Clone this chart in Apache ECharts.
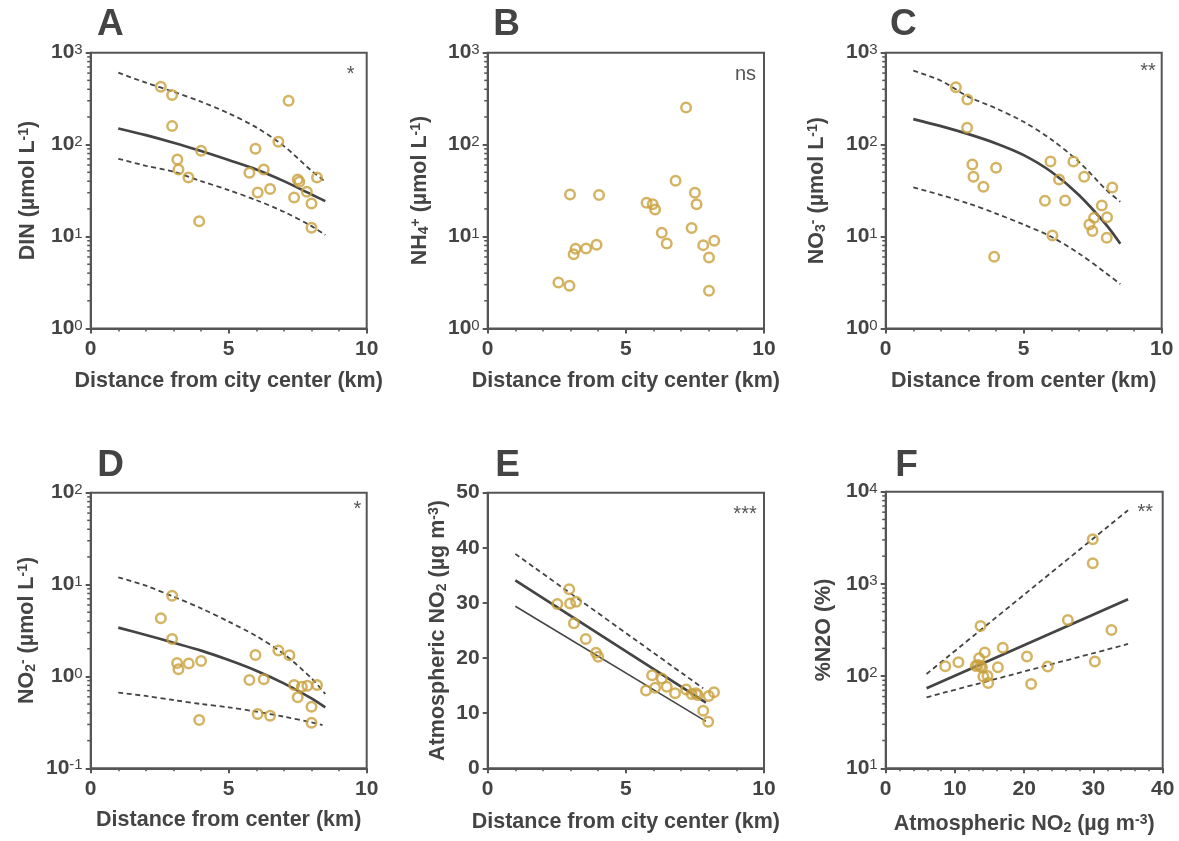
<!DOCTYPE html>
<html><head><meta charset="utf-8">
<script src="https://cdn.jsdelivr.net/npm/echarts@6/dist/echarts.min.js"></script>
<style>html,body{margin:0;padding:0;background:#fff}#c{width:1179px;height:841px}</style>
</head><body><div id="c"></div>
<script>
// ---------- DATA ----------
// Panel A: DIN vs distance
const distA = [2.54,2.95,2.95,3.14,3.18,3.54,4.0,3.93,5.75,5.97,6.27,6.05,6.5,6.8,7.17,7.37,7.5,7.56,7.83,8.0,8.0,8.2];
const dinA  = [427,346,159,69,53.7,44,85.8,14.7,49.4,90.2,53.7,30.2,33,107.5,300,26.6,41.8,39.5,30.7,22.9,12.5,44];
const curveX = [1,2,3,4,5,6,7,8,8.5];
const dinFit   = [150,127,105,85.1,67.9,53.7,40.1,28.7,24.3];
const dinUpper = [606,472,376,293,219,154,96.4,52,39.5];
const dinLower = [70.2,58.9,50.7,40.1,32.0,24.9,18.6,13.0,10.4];

// Panel B: NH4+ vs distance
const distB = [2.56,2.96,2.98,3.11,3.18,3.56,3.94,4.03,5.75,5.97,6.06,6.30,6.48,6.80,7.18,7.38,7.50,7.56,7.80,8.01,8.01,8.20];
const nh4B  = [3.17,2.91,28.7,6.44,7.36,7.4,8.14,28.4,23.3,22.5,19.7,11,8.41,40.5,254,12.4,29.9,22.5,8.07,5.93,2.57,9.0];

// Panel C: NO3- vs distance
const distC = [2.54,2.96,2.95,3.14,3.18,3.54,4.0,3.93,5.77,5.97,6.04,6.28,6.5,6.8,7.19,7.38,7.49,7.55,7.83,8.02,8.01,8.21];
const no3C  = [420,310,153,60.9,44.7,34.8,56,6.03,24.5,65.7,10.3,41.8,24.7,65.4,44.7,13.5,11.5,16,21.8,16.2,9.7,34.2];
const no3Fit   = [189.7,159,130,103,76.9,50.7,28.3,13.3,8.34];
const no3Upper = [637,496,332,248,177,114,65.1,32,23.9];
const no3Lower = [34.2,28.3,22.9,17.8,13.5,9.95,6.55,3.97,3.04];

// Panel D: NO2- vs distance
const distD = [2.54,2.95,2.95,3.13,3.18,3.55,4.0,3.93,5.75,5.97,6.27,6.05,6.5,6.8,7.2,7.37,7.5,7.65,7.85,8.0,8.0,8.2];
const no2D  = [4.29,7.57,2.56,1.40,1.195,1.38,1.47,0.336,0.915,1.71,0.93,0.39,0.374,1.91,1.70,0.807,0.593,0.774,0.79,0.469,0.314,0.807];
const no2Fit   = [3.40,2.83,2.33,1.91,1.51,1.156,0.841,0.578,0.461];
const no2Upper = [12.0,9.72,7.38,5.51,3.95,2.75,1.75,0.954,0.644];
const no2LowerX = [1,2,3,4,5,6,7,8,8.4];
const no2Lower = [0.666,0.613,0.554,0.501,0.461,0.414,0.365,0.317,0.296];

// Panel E: atmospheric NO2 vs distance
const distE = [2.52,2.95,2.98,3.2,3.12,3.55,3.92,4.0,5.73,5.95,6.06,6.30,6.48,6.78,7.18,7.38,7.54,7.6,7.8,8.0,7.98,8.19];
const atmE  = [29.8,32.5,29.9,30.2,26.3,23.45,20.97,20.25,14.1,16.9,14.6,16.3,14.8,13.6,14.3,13.5,13.6,13.3,10.45,13.1,8.45,13.8];
const eFitX = [1,7.9],  eFit = [34.1,11.9];
const eUpX  = [1,7.8],  eUp  = [38.9,14.5];
const eLoX  = [1,7.9],  eLo  = [29.4,8.5];

// Panel F: %N2O vs atmospheric NO2
const atmF = [8.6,10.5,13.0,13.7,13.5,13.7,14.3,14.1,14.7,14.8,16.2,16.9,20.4,21.0,23.4,26.3,29.9,29.9,30.2,32.6,13.3,13.9];
const n2oF = [128,141,129,129,156,350,180,99,100,84,125,203,163,82,127,406,3050,1670,144,316,132,124];
const fLineX = [5.9,35];
const fFit = [73.8,681], fUp = [105.5,6300], fLo = [58.9,223];

const panelLetters = ['A','B','C','D','E','F'];
const sigLabels = ['*','ns','**','*','***','**'];

// ---------- STYLE ----------
const FONT = '"Liberation Sans", Arial, sans-serif';
const DARK = '#444';
const FRAME = '#555';
const GOLD = '#C9A03C';

const zip = (xs, ys) => xs.map((x, i) => [x, ys[i]]);

const grids = [
  {left:90.7,  top:52.7,  width:276,   height:275.8},
  {left:487.7, top:52.7,  width:276.3, height:275.8},
  {left:885.7, top:52.7,  width:276,   height:275.8},
  {left:90.7,  top:492.7, width:276,   height:275.6},
  {left:487.7, top:492.7, width:276.3, height:275.6},
  {left:885.7, top:491.7, width:277,   height:276.6}
].map(g => Object.assign({show:true, borderColor:FRAME, borderWidth:2, backgroundColor:'transparent', containLabel:false, outerBoundsMode:'none'}, g));

const nameRich = {
  sup: {fontSize:14, fontWeight:'bold', fontFamily:FONT, color:DARK, verticalAlign:'top'},
  sub: {fontSize:14, fontWeight:'bold', fontFamily:FONT, color:DARK, verticalAlign:'bottom', lineHeight:11}
};
const nameStyle = {fontSize:21.5, fontWeight:'bold', fontFamily:FONT, color:DARK, rich:nameRich};

function xAx(gi, max, interval, name, nameGap) {
  return {type:'value', gridIndex:gi, min:0, max, interval, name, nameLocation:'middle', nameGap,
    nameTextStyle:nameStyle, nameMoveOverlap:false,
    axisLine:{show:true, onZero:false, lineStyle:{color:FRAME, width:2}},
    axisTick:{show:true, length:5, lineStyle:{color:FRAME, width:2}},
    minorTick:{show:true, splitNumber:5, length:3, lineStyle:{color:FRAME, width:1.5}},
    axisLabel:{margin:10, fontSize:21, fontWeight:'bold', fontFamily:FONT, color:DARK},
    splitLine:{show:false}, minorSplitLine:{show:false}};
}
function yLog(gi, min, max, name, nameGap) {
  return {type:'log', logBase:10, gridIndex:gi, min, max, name, nameLocation:'middle', nameGap,
    nameTextStyle:nameStyle, nameMoveOverlap:false,
    axisLine:{show:true, onZero:false, lineStyle:{color:FRAME, width:2}},
    axisTick:{show:true, length:5, lineStyle:{color:FRAME, width:2}},
    axisLabel:{margin:8, formatter: v => '{b|10}{e|' + Math.round(Math.log10(v)) + '}',
      rich:{b:{fontSize:21, fontWeight:'bold', fontFamily:FONT, color:DARK, verticalAlign:'bottom'},
            e:{fontSize:15, fontFamily:FONT, color:DARK, verticalAlign:'top'}}},
    splitLine:{show:false}};
}
function yLin(gi, min, max, interval, name, nameGap) {
  return {type:'value', gridIndex:gi, min, max, interval, name, nameLocation:'middle', nameGap,
    nameTextStyle:nameStyle, nameMoveOverlap:false,
    axisLine:{show:true, onZero:false, lineStyle:{color:FRAME, width:2}},
    axisTick:{show:true, length:5, lineStyle:{color:FRAME, width:2}},
    axisLabel:{margin:8, fontSize:21, fontWeight:'bold', fontFamily:FONT, color:DARK},
    splitLine:{show:false}};
}

function scatter(gi, xs, ys) {
  return {type:'scatter', xAxisIndex:gi, yAxisIndex:gi, data:zip(xs, ys), symbol:'circle', symbolSize:9.5,
    itemStyle:{color:'rgba(0,0,0,0)', borderColor:GOLD, borderWidth:2.5}, z:4, silent:true};
}
function line(gi, xs, ys, kind) {
  const ls = kind === 'fit' ? {color:DARK, width:2.7, type:'solid'}
           : kind === 'thin' ? {color:DARK, width:1.5, type:'solid'}
           : {color:DARK, width:1.8, type:[5,3.5]};
  return {type:'line', xAxisIndex:gi, yAxisIndex:gi, data:zip(xs, ys), showSymbol:false, symbol:'none',
    smooth:0.3, lineStyle:ls, z:3, silent:true};
}
// minor ticks (2..9 per decade) on a log axis, positioned through the axis scale
function logMinor(gi, lo, hi) {
  const vals = [];
  for (let d = lo; d < hi; d *= 10) for (let k = 2; k <= 9; k++) vals.push([0, +(k * d).toPrecision(6)]);
  return {type:'custom', xAxisIndex:gi, yAxisIndex:gi, data:vals, silent:true, clip:false, z:6,
    renderItem:(p, api) => {
      const pt = api.coord([api.value(0), api.value(1)]);
      return {type:'line', shape:{x1:pt[0]-3.5, y1:pt[1], x2:pt[0], y2:pt[1]}, style:{stroke:FRAME, lineWidth:1.5}};
    }};
}

const xAxes = [
  xAx(0, 10, 5, 'Distance from city center (km)', 42),
  xAx(1, 10, 5, 'Distance from city center (km)', 42),
  xAx(2, 10, 5, 'Distance from center (km)', 42),
  xAx(3, 10, 5, 'Distance from center (km)', 41),
  xAx(4, 10, 5, 'Distance from city center (km)', 43),
  xAx(5, 40, 10, 'Atmospheric NO{sub|2} (µg m{sup|-3})', 45)
];
const yAxes = [
  yLog(0, 1, 1000, 'DIN (µmol L{sup|-1})', 52),
  yLog(1, 1, 1000, 'NH{sub|4}{sup|+} (µmol L{sup|-1})', 57),
  yLog(2, 1, 1000, 'NO{sub|3}{sup|-} (µmol L{sup|-1})', 58),
  yLog(3, 0.1, 100, 'NO{sub|2}{sup|-} (µmol L{sup|-1})', 53),
  yLin(4, 0, 50, 10, 'Atmospheric NO{sub|2} (µg m{sup|-3})', 39),
  yLog(5, 10, 10000, '%N2O (%)', 51)
];

const series = [
  line(0, curveX, dinUpper, 'dash'), line(0, curveX, dinLower, 'dash'), line(0, curveX, dinFit, 'fit'),
  scatter(0, distA, dinA), logMinor(0, 1, 1000),
  scatter(1, distB, nh4B), logMinor(1, 1, 1000),
  line(2, curveX, no3Upper, 'dash'), line(2, curveX, no3Lower, 'dash'), line(2, curveX, no3Fit, 'fit'),
  scatter(2, distC, no3C), logMinor(2, 1, 1000),
  line(3, curveX, no2Upper, 'dash'), line(3, no2LowerX, no2Lower, 'dash'), line(3, curveX, no2Fit, 'fit'),
  scatter(3, distD, no2D), logMinor(3, 0.1, 100),
  line(4, eUpX, eUp, 'dash'), line(4, eFitX, eFit, 'fit'), line(4, eLoX, eLo, 'thin'),
  scatter(4, distE, atmE),
  line(5, fLineX, fUp, 'dash'), line(5, fLineX, fLo, 'dash'), line(5, fLineX, fFit, 'fit'),
  scatter(5, atmF, n2oF), logMinor(5, 10, 10000)
];

const letterPos = [[97,25],[493.3,25],[890,25],[97.3,466],[495.3,466],[895.3,466]];
const sigPos = [[354.5,74.8],[756,74],[1155.7,71],[361.2,509.8],[756.7,514.5],[1153,512]];
const graphic = [];
panelLetters.forEach((t, i) => graphic.push({type:'text', x:letterPos[i][0], y:letterPos[i][1], silent:true,
  style:{text:t, fontSize:37, fontWeight:'bold', fontFamily:FONT, fill:DARK, align:'left', verticalAlign:'middle'}}));
sigLabels.forEach((t, i) => graphic.push({type:'text', x:sigPos[i][0], y:sigPos[i][1], silent:true,
  style:{text:t, fontSize:20, fontFamily:FONT, fill:FRAME, align:'right', verticalAlign:'middle'}}));

const chart = echarts.init(document.getElementById('c'), null, {renderer:'canvas'});
chart.setOption({backgroundColor:'#fff', animation:false, grid:grids, xAxis:xAxes, yAxis:yAxes, series, graphic});
</script></body></html>
